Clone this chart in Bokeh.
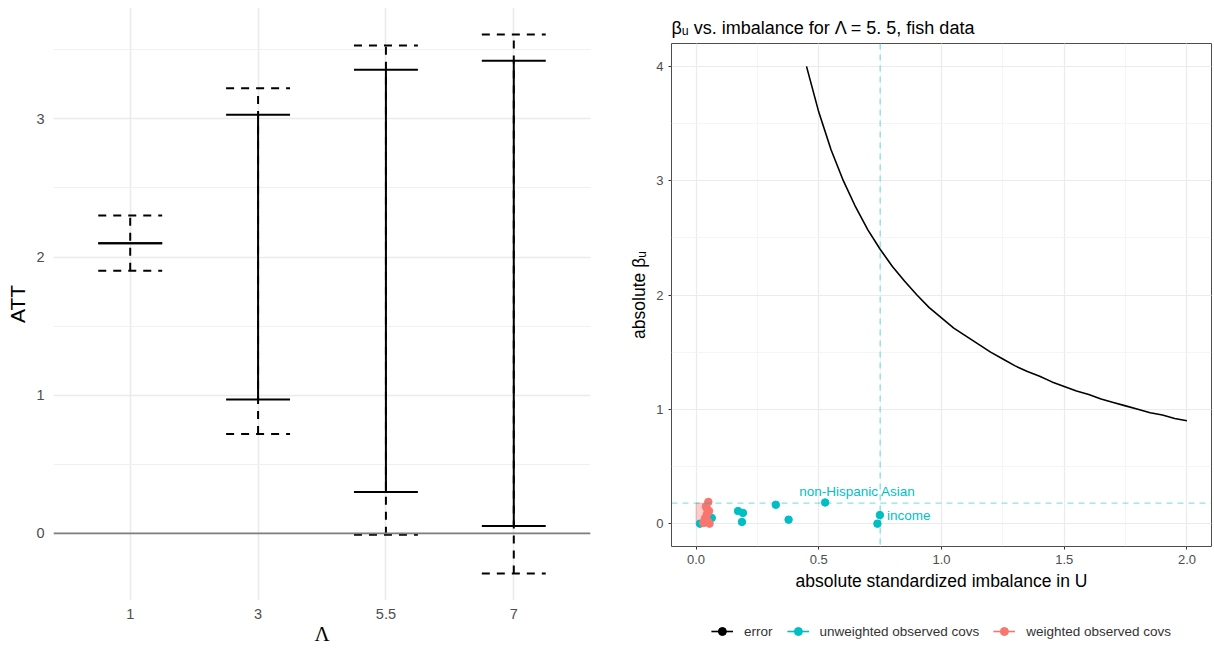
import math
from bokeh.plotting import figure
from bokeh.layouts import row, column
from bokeh.models import (Range1d, FixedTicker, SingleIntervalTicker, Span, Legend,
                          LegendItem, ColumnDataSource, NumeralTickFormatter)
from bokeh.embed import file_html
from bokeh.resources import INLINE
from bokeh.core.properties import value

# ---------------- data: left panel ----------------
lam_labels = ["1", "3", "5.5", "7"]
att_solid_low = [2.10, 0.97, 0.30, 0.054]
att_solid_high = [2.10, 3.03, 3.355, 3.42]
att_dash_low = [1.90, 0.72, -0.01, -0.29]
att_dash_high = [2.30, 3.22, 3.53, 3.61]

# ---------------- data: right panel ----------------
curve_imbalance = [0.45, 0.50, 0.55, 0.60, 0.65, 0.70, 0.75, 0.80, 0.85, 0.90,
                   0.95, 1.00, 1.05, 1.10, 1.15, 1.20, 1.25, 1.30, 1.35, 1.40,
                   1.45, 1.50, 1.55, 1.60, 1.65, 1.70, 1.75, 1.80, 1.85, 1.90,
                   1.95, 2.00]
curve_beta = [4.00, 3.60, 3.27, 3.00, 2.77, 2.57, 2.40, 2.25, 2.12, 2.00,
              1.89, 1.80, 1.71, 1.64, 1.57, 1.50, 1.44, 1.38, 1.33, 1.29,
              1.24, 1.20, 1.16, 1.13, 1.09, 1.06, 1.03, 1.00, 0.97, 0.95,
              0.92, 0.90]

unw_imbalance = [0.016, 0.064, 0.171, 0.191, 0.187, 0.325, 0.377, 0.526, 0.749, 0.739]
unw_beta = [0.0, 0.05, 0.11, 0.094, 0.015, 0.165, 0.035, 0.185, 0.075, 0.0]

w_imbalance = [0.050, 0.040, 0.053, 0.043, 0.036, 0.050, 0.030, 0.055, 0.045, 0.038]
w_beta = [0.19, 0.15, 0.11, 0.075, 0.045, 0.015, 0.005, 0.0, 0.13, 0.03]

label_text = ["non-Hispanic Asian", "income"]
label_imbalance = [0.657, 0.867]
label_beta = [0.28, 0.073]

ref_imbalance = 0.75
ref_beta = 0.18
box_imbalance = 0.03

legend_labels = ["error", "unweighted observed covs", "weighted observed covs"]

FONT = "Liberation Sans"
CYAN = "#00BFC4"
RED = "#F8766D"
legend_colors = ["black", CYAN, RED]

# ================= left figure =================
pos = list(range(1, len(lam_labels) + 1))
half = 0.25
src = ColumnDataSource(dict(
    x=pos,
    xl=[p - half for p in pos],
    xr=[p + half for p in pos],
    slo=att_solid_low, shi=att_solid_high,
    dlo=att_dash_low, dhi=att_dash_high,
))

p1 = figure(width=600, height=648, x_range=Range1d(0.4, 4.6),
            y_range=Range1d(-0.485, 3.805),
            output_backend="svg", toolbar_location=None,
            min_border_left=53, min_border_right=10, min_border_top=7, min_border_bottom=44)
p1.outline_line_color = None
p1.background_fill_color = "white"

p1.xaxis.ticker = FixedTicker(ticks=pos)
p1.xaxis.major_label_overrides = {p: l for p, l in zip(pos, lam_labels)}
p1.yaxis.ticker = SingleIntervalTicker(interval=1, num_minor_ticks=2)

for ax in (p1.xaxis[0], p1.yaxis[0]):
    ax.axis_line_color = None
    ax.major_tick_line_color = None
    ax.minor_tick_line_color = None
    ax.major_tick_out = 0
    ax.major_tick_in = 0
    ax.minor_tick_out = 0
    ax.minor_tick_in = 0
    ax.major_label_text_font = FONT
    ax.major_label_text_font_size = "14.5px"
    ax.major_label_text_color = "#4D4D4D"
    ax.axis_label_text_font_style = "normal"
    ax.axis_label_text_color = "black"
    ax.axis_label_text_font_size = "21px"
p1.xaxis.axis_label = "Λ"
p1.xaxis.axis_label_text_font = "Liberation Serif"
p1.xaxis.major_label_standoff = 8
p1.xaxis.axis_label_standoff = 0
p1.yaxis.axis_label = "ATT"
p1.yaxis.axis_label_text_font = FONT
p1.yaxis.major_label_standoff = 9
p1.yaxis.axis_label_standoff = 4

p1.xgrid.grid_line_color = "#EBEBEB"
p1.xgrid.grid_line_width = 1.6
p1.ygrid.grid_line_color = "#EBEBEB"
p1.ygrid.grid_line_width = 1.6
p1.ygrid.minor_grid_line_color = "#F0F0F0"
p1.ygrid.minor_grid_line_width = 1.2

p1.add_layout(Span(location=0, dimension="width", line_color="#7F7F7F", line_width=1.8))

# dashed error bars
for y0, y1, xa, xb in (("dlo", "dhi", "x", "x"), ("dlo", "dlo", "xl", "xr"), ("dhi", "dhi", "xl", "xr")):
    p1.segment(x0=xa, y0=y0, x1=xb, y1=y1, source=src, line_color="black",
               line_width=2, line_dash="8 7")
# solid error bars
for y0, y1, xa, xb in (("slo", "shi", "x", "x"), ("slo", "slo", "xl", "xr"), ("shi", "shi", "xl", "xr")):
    p1.segment(x0=xa, y0=y0, x1=xb, y1=y1, source=src, line_color="black", line_width=2)

# ================= right figure =================
p2 = figure(width=612, height=614, x_range=Range1d(-0.1, 2.1),
            y_range=Range1d(-0.2, 4.2),
            output_backend="svg", toolbar_location=None,
            min_border_left=71, min_border_right=1, min_border_top=43, min_border_bottom=68,
            title="βᵤ vs. imbalance for Λ = 5. 5, fish data")
p2.title.text_font = FONT
p2.title.text_font_size = "18px"
p2.title.text_font_style = "normal"
p2.title.text_color = "black"
p2.title.standoff = 12
p2.outline_line_color = "#4D4D4D"
p2.outline_line_width = 1

p2.xaxis.ticker = SingleIntervalTicker(interval=0.5, num_minor_ticks=2)
p2.xaxis.formatter = NumeralTickFormatter(format="0.0")
p2.yaxis.ticker = SingleIntervalTicker(interval=1, num_minor_ticks=2)
for ax in (p2.xaxis[0], p2.yaxis[0]):
    ax.axis_line_color = None
    ax.major_tick_line_color = "#333333"
    ax.major_tick_out = 3
    ax.major_tick_in = 0
    ax.minor_tick_line_color = None
    ax.major_label_text_font = FONT
    ax.major_label_text_font_size = "13px"
    ax.major_label_text_color = "#4D4D4D"
    ax.major_label_standoff = 4
    ax.axis_label_text_font = FONT
    ax.axis_label_text_font_style = "normal"
    ax.axis_label_text_color = "black"
    ax.axis_label_text_font_size = "17.5px"
    ax.axis_label_standoff = 4
p2.xaxis.axis_label = "absolute standardized imbalance in U"
p2.yaxis.axis_label = "absolute βᵤ"

for g in (p2.xgrid[0], p2.ygrid[0]):
    g.grid_line_color = "#EBEBEB"
    g.grid_line_width = 1.2
    g.minor_grid_line_color = "#F2F2F2"
    g.minor_grid_line_width = 0.8

p2.quad(left=[0], right=[box_imbalance], bottom=[0], top=[ref_beta],
        fill_color=RED, fill_alpha=0.35, line_color=RED, line_alpha=0.4)
p2.add_layout(Span(location=ref_imbalance, dimension="height", line_color=CYAN,
                   line_alpha=0.45, line_width=1.3, line_dash="6 5"))
p2.add_layout(Span(location=ref_beta, dimension="width", line_color=CYAN,
                   line_alpha=0.45, line_width=1.3, line_dash="6 5"))

p2.line(curve_imbalance, curve_beta, line_color="black", line_width=1.6)
p2.scatter(unw_imbalance, unw_beta, size=7.5, fill_color=CYAN, line_color=CYAN)
p2.scatter(w_imbalance, w_beta, size=7.5, fill_color=RED, line_color=RED)
p2.text(x=label_imbalance, y=label_beta, text=label_text, text_color=CYAN,
        text_font=value(FONT), text_font_size="13.5px", text_align="center",
        text_baseline="middle")

# ================= legend strip =================
pl = figure(width=612, height=34, x_range=Range1d(0, 1), y_range=Range1d(0, 1),
            output_backend="svg", toolbar_location=None,
            min_border_left=71, min_border_right=1, min_border_top=0, min_border_bottom=0)
pl.axis.visible = False
pl.grid.visible = False
pl.outline_line_color = None
items = []
for lab, col in zip(legend_labels, legend_colors):
    rv = pl.scatter([-5], [-5], marker="dash", angle=math.pi / 2, size=20,
                    line_color=col, line_alpha=0.25, line_width=1.5)
    rl = pl.line([-5, -4], [-5, -4], line_color=col, line_width=1.6)
    rp = pl.scatter([-5], [-5], size=7.5, fill_color=col, line_color=col)
    items.append(LegendItem(label=lab, renderers=[rv, rl, rp]))
legend = Legend(items=items, orientation="horizontal", location="center",
                border_line_color=None, background_fill_alpha=0,
                label_text_font=FONT, label_text_font_size="13.5px",
                label_text_color="#333333", glyph_width=22, glyph_height=20,
                spacing=14, padding=0, margin=0, label_standoff=11)
pl.add_layout(legend, "center")

layout = row(p1, column(p2, pl))
open("out.html", "w").write(file_html(layout, INLINE))
